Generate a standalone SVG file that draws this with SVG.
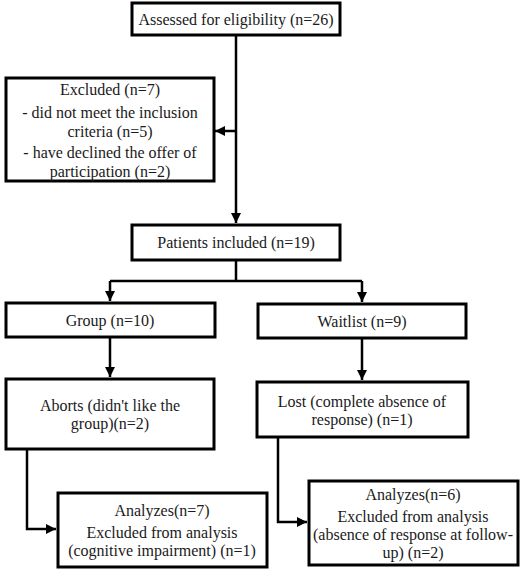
<svg xmlns="http://www.w3.org/2000/svg" width="532" height="575" viewBox="0 0 532 575">
<style>
.box{fill:#fff;stroke:#000;stroke-width:3}
.t{font-family:"Liberation Serif","Times New Roman","DejaVu Serif",serif;font-size:16px;fill:#1a1a1a;text-anchor:middle}
.c{fill:none;stroke:#000;stroke-width:2.5}
</style>
<defs>
<marker id="ah" viewBox="0 0 10 10" refX="10" refY="5" markerWidth="4" markerHeight="4" orient="auto" markerUnits="strokeWidth">
<path d="M0,0 L10,5 L0,10 z" fill="#000"/>
</marker>
</defs>
<g id="connectors">
<path class="c" d="M236,35 V223" marker-end="url(#ah)"/>
<path class="c" d="M236,131 H215" marker-end="url(#ah)"/>
<path class="c" d="M236,260 V281 M110,281 H362"/>
<path class="c" d="M110,281 V301" marker-end="url(#ah)"/>
<path class="c" d="M362,281 V302" marker-end="url(#ah)"/>
<path class="c" d="M110,337 V377" marker-end="url(#ah)"/>
<path class="c" d="M362,338 V380" marker-end="url(#ah)"/>
<path class="c" d="M27,449 V529 H56" marker-end="url(#ah)"/>
<path class="c" d="M278,437 V522 H307" marker-end="url(#ah)"/>
</g>
<g id="n_assessed">
<rect class="box" x="132" y="3" width="208" height="32"/>
<text class="t" x="236" y="25">Assessed for eligibility (n=26)</text>
</g>
<g id="n_excluded">
<rect class="box" x="6" y="78" width="208" height="103"/>
<text class="t" x="110" y="95">Excluded (n=7)</text>
<text class="t" x="110" y="118">- did not meet the inclusion</text>
<text class="t" x="110" y="137">criteria (n=5)</text>
<text class="t" x="110" y="158">- have declined the offer of</text>
<text class="t" x="110" y="177">participation (n=2)</text>
</g>
<g id="n_patients">
<rect class="box" x="132" y="225" width="208" height="35"/>
<text class="t" x="236" y="248">Patients included (n=19)</text>
</g>
<g id="n_group">
<rect class="box" x="6" y="303" width="209" height="34"/>
<text class="t" x="110" y="326">Group (n=10)</text>
</g>
<g id="n_waitlist">
<rect class="box" x="258" y="304" width="208" height="34"/>
<text class="t" x="362" y="327">Waitlist (n=9)</text>
</g>
<g id="n_aborts">
<rect class="box" x="6" y="379" width="208" height="70"/>
<text class="t" x="110" y="411">Aborts (didn't like the</text>
<text class="t" x="110" y="429">group)(n=2)</text>
</g>
<g id="n_lost">
<rect class="box" x="257" y="382" width="211" height="55"/>
<text class="t" x="362" y="407">Lost (complete absence of</text>
<text class="t" x="362" y="425">response) (n=1)</text>
</g>
<g id="n_analyzes7">
<rect class="box" x="58" y="493" width="209" height="74"/>
<text class="t" x="162" y="516">Analyzes(n=7)</text>
<text class="t" x="162" y="538">Excluded from analysis</text>
<text class="t" x="162" y="556">(cognitive impairment) (n=1)</text>
</g>
<g id="n_analyzes6">
<rect class="box" x="309" y="481" width="209" height="84"/>
<text class="t" x="413" y="500">Analyzes(n=6)</text>
<text class="t" x="413" y="522">Excluded from analysis</text>
<text class="t" x="413" y="540">(absence of response at follow-</text>
<text class="t" x="413" y="558">up) (n=2)</text>
</g>
</svg>
